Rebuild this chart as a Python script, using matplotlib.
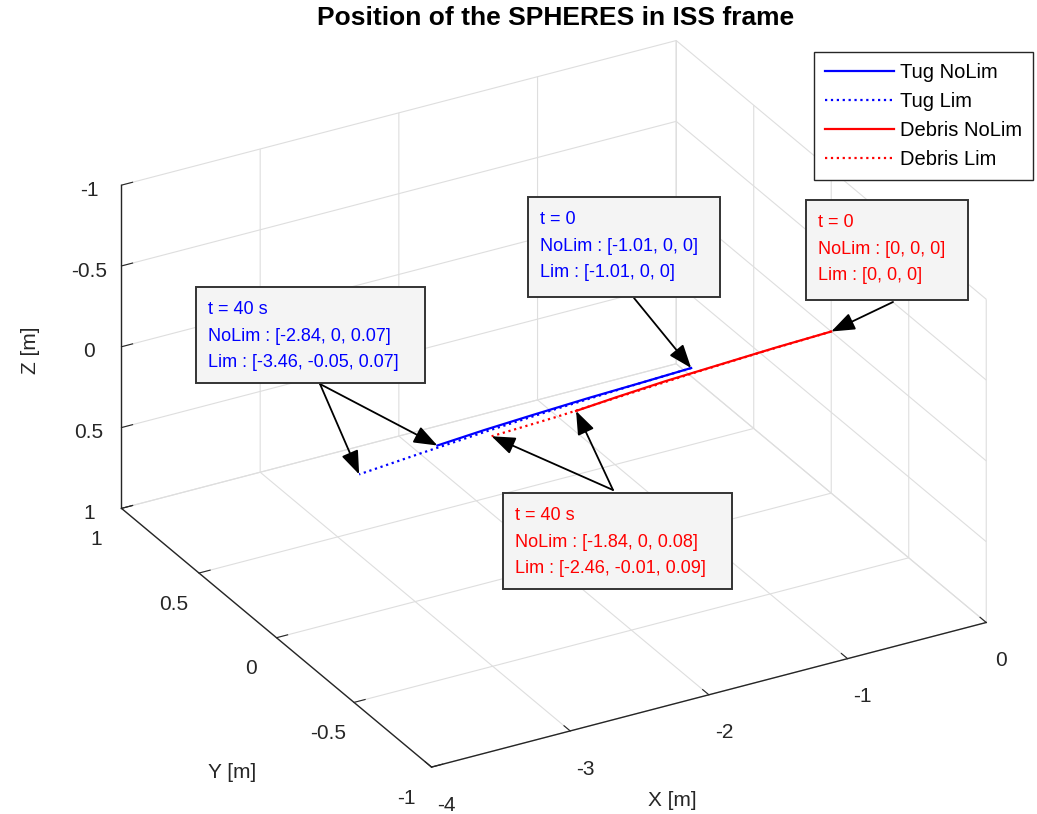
import numpy as np
import matplotlib.pyplot as plt
from matplotlib.patches import Rectangle
from matplotlib.ticker import FormatStrFormatter
from mpl_toolkits.mplot3d import proj3d

plt.rcParams['font.family'] = ['Liberation Sans', 'DejaVu Sans']
plt.rcParams['axes.unicode_minus'] = False
plt.rcParams['grid.color'] = '#dedede'
plt.rcParams['grid.linewidth'] = 0.8

# positions in ISS frame [m]
tug_nolim_x = [-1.01, -1.35, -1.75, -2.15, -2.5, -2.84]
tug_nolim_y = [0, 0, 0, 0, 0, 0]
tug_nolim_z = [0, 0.01, 0.02, 0.035, 0.05, 0.07]

tug_lim_x = [-1.01, -1.5, -2.0, -2.5, -3.0, -3.46]
tug_lim_y = [0, -0.005, -0.01, -0.02, -0.035, -0.05]
tug_lim_z = [0, 0.01, 0.025, 0.04, 0.055, 0.07]

debris_nolim_x = [0, -0.4, -0.8, -1.2, -1.55, -1.84]
debris_nolim_y = [0, 0, 0, 0, 0, 0]
debris_nolim_z = [0, 0.01, 0.025, 0.04, 0.06, 0.08]

debris_lim_x = [0, -0.5, -1.0, -1.5, -2.0, -2.46]
debris_lim_y = [0, 0, 0, -0.005, -0.01, -0.01]
debris_lim_z = [0, 0.015, 0.035, 0.055, 0.075, 0.09]

x_ticks = [-4, -3, -2, -1, 0]
y_ticks = [-1, -0.5, 0, 0.5, 1]
z_ticks = [-1, -0.5, 0, 0.5, 1]

W, H = 1037, 814
fig = plt.figure(figsize=(W / 100, H / 100), dpi=100)
ax = fig.add_axes([0.0235, -0.0096, 1.0, 1.0], projection='3d', proj_type='ortho')

ax.plot(tug_nolim_x, tug_nolim_y, tug_nolim_z, '-', color='b', lw=1.6, label='Tug NoLim')
ax.plot(tug_lim_x, tug_lim_y, tug_lim_z, ':', color='b', lw=1.6, label='Tug Lim')
ax.plot(debris_nolim_x, debris_nolim_y, debris_nolim_z, '-', color='r', lw=1.6, label='Debris NoLim')
ax.plot(debris_lim_x, debris_lim_y, debris_lim_z, ':', color='r', lw=1.6, label='Debris Lim')

ax.set_xlim(-4, 0)
ax.set_ylim(-1, 1)
ax.set_zlim(1, -1)
ax.set_xticks(x_ticks)
ax.set_yticks(y_ticks)
ax.set_zticks(z_ticks)
for axis in (ax.xaxis, ax.yaxis, ax.zaxis):
    axis.set_major_formatter(FormatStrFormatter('%g'))
    axis.set_pane_color((1, 1, 1, 0))
    axis.pane.set_edgecolor('#dedede')
    axis.line.set_color('#262626')
    axis.line.set_linewidth(1.0)
    axis._axinfo['tick']['inward_factor'] = 0.0
    axis._axinfo['tick']['outward_factor'] = 0.25
    axis._axinfo['tick']['color'] = '#262626'
ax.tick_params(labelsize=15, colors='#262626')
ax.xaxis.set_tick_params(pad=7)
ax.yaxis.set_tick_params(pad=6)
ax.zaxis.set_tick_params(pad=3.5)
ax.set_box_aspect((1, 1, 0.575), zoom=1.157)
ax.view_init(elev=27.8, azim=-119.2)

# axis titles are placed by hand so they stay horizontal like the MATLAB ones
fig.text(672 / W, 1 - 800 / H, 'X [m]', fontsize=15, color='#262626', ha='center', va='center')
fig.text(232 / W, 1 - 772 / H, 'Y [m]', fontsize=15, color='#262626', ha='center', va='center')
fig.text(30 / W, 1 - 350 / H, 'Z [m]', fontsize=15, color='#262626', ha='center', va='center',
         rotation=90)
fig.text(556 / W, 1 - 18 / H, 'Position of the SPHERES in ISS frame', fontsize=19,
         fontweight='bold', ha='center', va='center')

ax.legend(loc='upper right', bbox_to_anchor=(1033 / W, 1 - 52 / H), bbox_transform=fig.transFigure,
          fontsize=14.5, fancybox=False, edgecolor='#262626', framealpha=1, handlelength=3.4,
          handletextpad=0.3, labelspacing=0.5, borderpad=0.55, borderaxespad=0)


def to_2d(x, y, z):
    px, py, _ = proj3d.proj_transform(x, y, z, ax.get_proj())
    return px, py


def note(left, top, right, bottom, lines, color):
    fig.add_artist(Rectangle((left / W, 1 - bottom / H), (right - left) / W, (bottom - top) / H,
                             transform=fig.transFigure, fc='#f4f4f4', ec='#333333', lw=1.4))
    fig.text((left + 12) / W, 1 - (top + 14) / H, '\n'.join(lines), color=color,
             fontsize=13, va='top', ha='left', linespacing=1.74)


def arrow(tail, x, y, z):
    ax.annotate('', xy=to_2d(x, y, z), xycoords='data',
                xytext=(tail[0], H - tail[1]), textcoords='figure pixels',
                annotation_clip=False,
                arrowprops=dict(arrowstyle='-|>,head_length=0.8,head_width=0.3',
                                color='k', lw=1.3, shrinkA=0, shrinkB=0, mutation_scale=18))


note(196, 287, 425, 383, ['t = 40 s', 'NoLim : [-2.84, 0, 0.07]', 'Lim : [-3.46, -0.05, 0.07]'], 'b')
note(528, 197, 720, 297, ['t = 0', 'NoLim : [-1.01, 0, 0]', 'Lim : [-1.01, 0, 0]'], 'b')
note(806, 200, 968, 300, ['t = 0', 'NoLim : [0, 0, 0]', 'Lim : [0, 0, 0]'], 'r')
note(503, 493, 732, 589, ['t = 40 s', 'NoLim : [-1.84, 0, 0.08]', 'Lim : [-2.46, -0.01, 0.09]'], 'r')

arrow((320, 384), tug_nolim_x[-1], tug_nolim_y[-1], tug_nolim_z[-1])
arrow((320, 384), tug_lim_x[-1], tug_lim_y[-1], tug_lim_z[-1])
arrow((634, 298), tug_nolim_x[0], tug_nolim_y[0], tug_nolim_z[0])
arrow((893, 302), debris_nolim_x[0], debris_nolim_y[0], debris_nolim_z[0])
arrow((613, 490), debris_nolim_x[-1], debris_nolim_y[-1], debris_nolim_z[-1])
arrow((613, 490), debris_lim_x[-1], debris_lim_y[-1], debris_lim_z[-1])

fig.savefig('out.png', dpi=100, facecolor='white')
